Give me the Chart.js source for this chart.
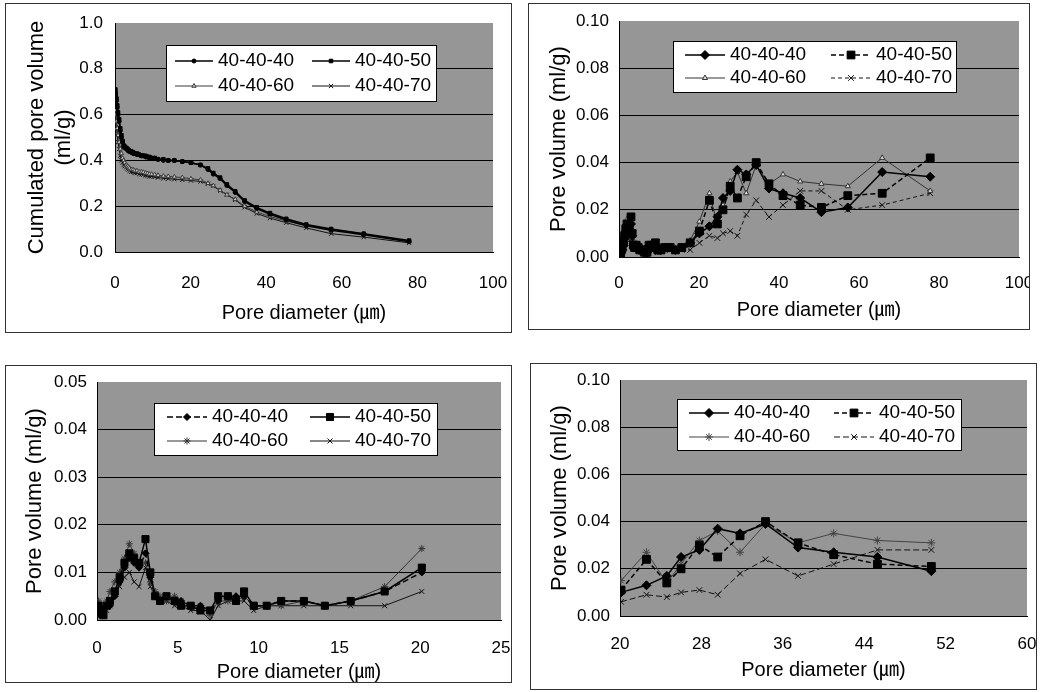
<!DOCTYPE html>
<html>
<head>
<meta charset="UTF-8">
<title>Pore size distribution</title>
<script src="https://cdn.jsdelivr.net/npm/chart.js"></script>
<style>
    body {
        margin: 0;
        background: #fff;
        width: 1044px;
        height: 692px;
        overflow: hidden;
    }

    .panel {
        position: absolute;
        border: 1px solid #333;
        background: #fff;
    }

    .panel canvas {
        display: block;
    }
</style>
</head>
<body>
<div class="panel" style="left:5px;top:3px;width:505px;height:328px"><canvas id="c1" width="505" height="328"></canvas></div>
<div class="panel" style="left:528px;top:3px;width:500px;height:325px"><canvas id="c2" width="500" height="325"></canvas></div>
<div class="panel" style="left:5px;top:365px;width:505px;height:316px"><canvas id="c3" width="505" height="316"></canvas></div>
<div class="panel" style="left:530px;top:363px;width:505px;height:325px"><canvas id="c4" width="505" height="325"></canvas></div>

<script>
// sample names
const samples = ['40-40-40', '40-40-50', '40-40-60', '40-40-70'];

// pore diameters of the measured points (um)
const diameters = [0.1, 0.2, 0.4, 0.6, 0.8, 1.1, 1.4, 1.7, 2.0, 2.3, 2.6, 3.0, 3.3, 3.6, 3.9, 4.3, 4.8, 5.2, 5.8, 6.4,
    7.0, 7.5, 8.1, 8.6, 9.1, 9.7, 10.5, 11.4, 12.8, 14.1, 15.7, 17.8, 20.1, 22.6, 24.6, 26.0, 27.8, 29.6, 31.8, 34.3,
    37.5, 41.0, 45.3, 50.6, 57.2, 65.8, 77.8];

// cumulated pore volume (ml/g)
const cum40 = [0.70, 0.68, 0.66, 0.63, 0.60, 0.57, 0.53, 0.50, 0.48, 0.46, 0.455, 0.45, 0.445, 0.44, 0.44, 0.435, 0.43, 0.43, 0.425, 0.425,
    0.42, 0.42, 0.415, 0.415, 0.41, 0.41, 0.41, 0.405, 0.40, 0.40, 0.40, 0.395, 0.39, 0.38, 0.36, 0.34, 0.32, 0.29, 0.26, 0.22,
    0.19, 0.165, 0.14, 0.115, 0.095, 0.075, 0.045];
const cum50 = [0.71, 0.69, 0.67, 0.64, 0.61, 0.58, 0.54, 0.51, 0.485, 0.465, 0.46, 0.455, 0.45, 0.445, 0.44, 0.44, 0.435, 0.43, 0.43, 0.425,
    0.42, 0.42, 0.42, 0.415, 0.415, 0.41, 0.41, 0.405, 0.405, 0.40, 0.40, 0.395, 0.39, 0.38, 0.365, 0.345, 0.325, 0.295, 0.265, 0.225,
    0.195, 0.17, 0.145, 0.12, 0.10, 0.08, 0.05];
const cum60 = [0.62, 0.60, 0.57, 0.54, 0.51, 0.48, 0.45, 0.43, 0.41, 0.40, 0.39, 0.38, 0.375, 0.37, 0.365, 0.36, 0.36, 0.355, 0.355, 0.35,
    0.35, 0.348, 0.345, 0.343, 0.34, 0.34, 0.338, 0.335, 0.332, 0.33, 0.328, 0.325, 0.32, 0.315, 0.30, 0.29, 0.27, 0.25, 0.23, 0.20,
    0.175, 0.155, 0.135, 0.115, 0.10, 0.08, 0.045];
const cum70 = [0.58, 0.56, 0.54, 0.51, 0.48, 0.45, 0.42, 0.40, 0.39, 0.38, 0.375, 0.37, 0.365, 0.36, 0.355, 0.35, 0.35, 0.345, 0.345, 0.34,
    0.34, 0.338, 0.335, 0.333, 0.33, 0.33, 0.328, 0.325, 0.322, 0.32, 0.318, 0.315, 0.312, 0.308, 0.298, 0.288, 0.268, 0.25, 0.228, 0.195,
    0.168, 0.148, 0.128, 0.105, 0.08, 0.065, 0.04];

// pore volume per diameter step (ml/g)
const pv40 = [0.002, 0.001, 0.002, 0.003, 0.003, 0.005, 0.008, 0.011, 0.013, 0.012, 0.011, 0.014, 0.009, 0.005, 0.004, 0.005, 0.004, 0.004, 0.003, 0.003,
    0.002, 0.004, 0.005, 0.005, 0.005, 0.003, 0.003, 0.004, 0.004, 0.003, 0.004, 0.006, 0.010, 0.013, 0.017, 0.025, 0.028, 0.037, 0.035, 0.039,
    0.029, 0.027, 0.025, 0.019, 0.021, 0.036, 0.034];
const pv50 = [0.003, 0.002, 0.001, 0.003, 0.004, 0.006, 0.009, 0.012, 0.014, 0.013, 0.012, 0.017, 0.010, 0.005, 0.004, 0.005, 0.004, 0.003, 0.003, 0.002,
    0.002, 0.005, 0.005, 0.004, 0.006, 0.003, 0.003, 0.004, 0.004, 0.003, 0.004, 0.006, 0.011, 0.024, 0.014, 0.020, 0.030, 0.025, 0.034, 0.040,
    0.031, 0.026, 0.022, 0.021, 0.026, 0.027, 0.042];
const pv60 = [0.004, 0.002, 0.002, 0.004, 0.006, 0.008, 0.010, 0.013, 0.016, 0.014, 0.012, 0.012, 0.008, 0.006, 0.005, 0.004, 0.005, 0.004, 0.003, 0.003,
    0.001, 0.004, 0.004, 0.004, 0.005, 0.003, 0.003, 0.003, 0.004, 0.003, 0.004, 0.007, 0.015, 0.027, 0.014, 0.022, 0.032, 0.036, 0.027, 0.039,
    0.031, 0.035, 0.032, 0.031, 0.030, 0.042, 0.028];
const pv70 = [0.001, 0.001, 0.001, 0.002, 0.003, 0.006, 0.007, 0.009, 0.010, 0.008, 0.007, 0.011, 0.007, 0.005, 0.004, 0.004, 0.003, 0.003, 0.002, 0.002,
    0.000, 0.003, 0.004, 0.004, 0.004, 0.002, 0.003, 0.003, 0.003, 0.003, 0.003, 0.003, 0.006, 0.009, 0.008, 0.010, 0.011, 0.009, 0.018, 0.024,
    0.017, 0.022, 0.028, 0.028, 0.020, 0.022, 0.027];

// axis ticks
const xTicks1 = [0, 20, 40, 60, 80, 100];
const xTicks3 = [0, 5, 10, 15, 20, 25];
const xTicks4 = [20, 28, 36, 44, 52, 60];
const yTicks1 = [0, 0.2, 0.4, 0.6, 0.8, 1.0];
const yTicks2 = [0, 0.02, 0.04, 0.06, 0.08, 0.10];
const yTicks3 = [0, 0.01, 0.02, 0.03, 0.04, 0.05];

const FONT = "'Liberation Sans', 'Noto Sans CJK KR', Arial, sans-serif";
const X_TITLE = 'Pore diameter (\u339B)';

// paint the plot area grey
const plotBackground = {
    id: 'plotBackground',
    beforeDraw(chart) {
        const a = chart.chartArea;
        chart.ctx.save();
        chart.ctx.fillStyle = '#969696';
        chart.ctx.fillRect(a.left, a.top, a.right - a.left, a.bottom - a.top);
        chart.ctx.restore();
    }
};

// white boxed legend inside the plot area, two columns
const boxLegend = {
    id: 'boxLegend',
    afterDatasetsDraw(chart, args, opts) {
        const ctx = chart.ctx;
        const a = chart.chartArea;
        const x0 = Math.round(a.left + opts.x), y0 = Math.round(a.top + opts.y);
        ctx.save();
        ctx.fillStyle = '#fff';
        ctx.fillRect(x0, y0, opts.w, opts.h);
        ctx.strokeStyle = '#000';
        ctx.lineWidth = 1;
        ctx.strokeRect(x0 + 0.5, y0 + 0.5, opts.w - 1, opts.h - 1);
        chart.data.datasets.forEach(function (ds, i) {
            const lx = x0 + opts.cols[i % 2];
            const ly = y0 + opts.rows[Math.floor(i / 2)];
            ctx.strokeStyle = ds.borderColor;
            ctx.lineWidth = ds.borderWidth;
            ctx.setLineDash(ds.borderDash || []);
            ctx.beginPath();
            ctx.moveTo(lx, ly);
            ctx.lineTo(lx + opts.line, ly);
            ctx.stroke();
            ctx.setLineDash([]);
            ctx.fillStyle = ds.pointBackgroundColor;
            ctx.strokeStyle = ds.pointBorderColor;
            ctx.lineWidth = 1;
            Chart.helpers.drawPoint(ctx, { pointStyle: ds.pointStyle, radius: ds.pointRadius, borderWidth: 1, rotation: 0 }, lx + opts.line / 2, ly);
            ctx.fillStyle = '#000';
            ctx.font = '19px ' + FONT;
            ctx.textBaseline = 'middle';
            ctx.textAlign = 'left';
            ctx.fillText(ds.label, lx + opts.line + 5, ly);
        });
        ctx.restore();
    }
};

function points(xs, ys, lo, hi) {
    const out = [];
    for (let i = 0; i < xs.length; i++) {
        if (xs[i] >= lo && xs[i] <= hi) out.push({ x: xs[i], y: ys[i] });
    }
    return out;
}

function series(label, data, st) {
    return {
        label: label,
        data: data,
        borderColor: st.color,
        borderWidth: st.width,
        borderDash: st.dash || [],
        pointStyle: st.marker,
        pointRadius: st.r,
        pointBackgroundColor: st.fill || st.color,
        pointBorderColor: st.color,
        pointBorderWidth: 1,
        fill: false,
        tension: 0
    };
}

function makeChart(id, p) {
    const yMax = p.yTicks[p.yTicks.length - 1];
    return new Chart(document.getElementById(id), {
        type: 'line',
        data: { datasets: p.datasets },
        options: {
            responsive: false,
            animation: false,
            events: [],
            layout: { padding: { left: 0, top: p.top, right: p.right, bottom: 0 } },
            plugins: {
                legend: { display: false },
                tooltip: { enabled: false },
                boxLegend: p.legend
            },
            scales: {
                x: {
                    type: 'linear',
                    min: p.xTicks[0],
                    max: p.xTicks[p.xTicks.length - 1],
                    afterBuildTicks: s => { s.ticks = p.xTicks.map(v => ({ value: v })); },
                    afterFit: s => { s.height = p.xh; s.paddingLeft = 0; s.paddingRight = 0; },
                    grid: { display: false, drawTicks: false },
                    border: { display: true, color: '#000', width: 1 },
                    ticks: {
                        color: '#000', padding: p.xPad, autoSkip: false, maxRotation: 0,
                        font: { family: FONT, size: 17 }
                    },
                    title: {
                        display: true, text: X_TITLE, color: '#000',
                        font: { family: FONT, size: 20, lineHeight: 1 },
                        padding: { top: 0, bottom: p.xTitlePad }
                    }
                },
                y: {
                    type: 'linear',
                    min: 0,
                    max: yMax,
                    afterBuildTicks: s => { s.ticks = p.yTicks.map(v => ({ value: v })); },
                    afterFit: s => { s.width = p.yw; s.paddingTop = 0; s.paddingBottom = 0; },
                    grid: {
                        drawTicks: false,
                        lineWidth: 1,
                        color: c => (c.tick && Math.abs(c.tick.value - yMax) < 1e-9) ? 'rgba(0,0,0,0)' : '#000'
                    },
                    border: { display: true, color: '#000', width: 1 },
                    ticks: {
                        color: '#000', padding: p.yPad,
                        font: { family: FONT, size: 17 },
                        callback: v => v.toFixed(p.digits)
                    },
                    title: {
                        display: true, text: p.yTitle, color: '#000',
                        font: { family: FONT, size: 22, lineHeight: p.yLine },
                        padding: { top: p.yTitlePad, bottom: 0 }
                    }
                }
            }
        },
        plugins: [plotBackground, boxLegend]
    });
}

// top left: cumulated pore volume
makeChart('c1', {
    xTicks: xTicks1, yTicks: yTicks1, digits: 1,
    top: 19, right: 18, yw: 109, xh: 80, xPad: 21, yPad: 12, xTitlePad: 9,
    yTitle: ['Cumulated pore volume', '(ml/g)'], yLine: 1.23, yTitlePad: 17,
    legend: { x: 51, y: 22, w: 271, h: 57, rows: [16, 41], cols: [9, 146], line: 38 },
    datasets: [
        series(samples[0], points(diameters, cum40, 0, 100), { color: '#000', width: 1.5, marker: 'circle', r: 2 }),
        series(samples[1], points(diameters, cum50, 0, 100), { color: '#000', width: 1.5, marker: 'rect', r: 2.5 }),
        series(samples[2], points(diameters, cum60, 0, 100), { color: '#3a3a3a', width: 1, marker: 'triangle', r: 2.5, fill: '#ccc' }),
        series(samples[3], points(diameters, cum70, 0, 100), { color: '#111', width: 1, marker: 'crossRot', r: 3 })
    ]
});

// top right: pore volume, full range
makeChart('c2', {
    xTicks: xTicks1, yTicks: yTicks2, digits: 2,
    top: 17, right: 10, yw: 90, xh: 72, xPad: 16, yPad: 10, xTitlePad: 9,
    yTitle: 'Pore volume (ml/g)', yLine: 1, yTitlePad: 19,
    legend: { x: 54, y: 20, w: 284, h: 52, rows: [14, 37], cols: [12, 158], line: 40 },
    datasets: [
        series(samples[0], points(diameters, pv40, 0, 100), { color: '#000', width: 1.5, marker: 'rectRot', r: 4.5 }),
        series(samples[1], points(diameters, pv50, 0, 100), { color: '#000', width: 1.5, dash: [5, 3], marker: 'rect', r: 5.5 }),
        series(samples[2], points(diameters, pv60, 0, 100), { color: '#333', width: 1, marker: 'triangle', r: 3, fill: '#ddd' }),
        series(samples[3], points(diameters, pv70, 0, 100), { color: '#111', width: 1, dash: [4, 3], marker: 'crossRot', r: 4 })
    ]
});

// bottom left: pore volume, small pores
makeChart('c3', {
    xTicks: xTicks3, yTicks: yTicks3, digits: 2,
    top: 16, right: 10, yw: 91, xh: 62, xPad: 18, yPad: 10, xTitlePad: 0,
    yTitle: 'Pore volume (ml/g)', yLine: 1, yTitlePad: 18,
    legend: { x: 57, y: 21, w: 284, h: 53, rows: [14, 38], cols: [13, 156], line: 40 },
    datasets: [
        series(samples[0], points(diameters, pv40, 0, 20.5), { color: '#000', width: 1.5, dash: [6, 3], marker: 'rectRot', r: 3.5 }),
        series(samples[1], points(diameters, pv50, 0, 20.5), { color: '#000', width: 1.5, marker: 'rect', r: 5 }),
        series(samples[2], points(diameters, pv60, 0, 20.5), { color: '#333', width: 1, marker: 'star', r: 3.5 }),
        series(samples[3], points(diameters, pv70, 0, 20.5), { color: '#111', width: 1, marker: 'crossRot', r: 3.5 })
    ]
});

// bottom right: pore volume, 20-60 um
makeChart('c4', {
    xTicks: xTicks4, yTicks: yTicks2, digits: 2,
    top: 16, right: 9, yw: 89, xh: 73, xPad: 18, yPad: 10, xTitlePad: 9,
    yTitle: 'Pore volume (ml/g)', yLine: 1, yTitlePad: 18,
    legend: { x: 57, y: 19, w: 285, h: 52, rows: [14, 38], cols: [12, 157], line: 40 },
    datasets: [
        series(samples[0], points(diameters, pv40, 20, 51), { color: '#000', width: 1.5, marker: 'rectRot', r: 4.5 }),
        series(samples[1], points(diameters, pv50, 20, 51), { color: '#000', width: 1.5, dash: [5, 3], marker: 'rect', r: 5.5 }),
        series(samples[2], points(diameters, pv60, 20, 51), { color: '#444', width: 1, marker: 'star', r: 4 }),
        series(samples[3], points(diameters, pv70, 20, 51), { color: '#111', width: 1, dash: [6, 3], marker: 'crossRot', r: 4 })
    ]
});
</script>
</body>
</html>
